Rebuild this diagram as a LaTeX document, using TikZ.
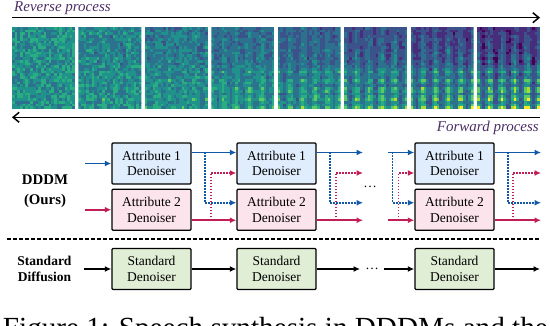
\documentclass[tikz,border=0pt]{standalone}
\usepackage{fontspec}
\setmainfont{Liberation Serif}
\usetikzlibrary{arrows.meta,positioning,calc}
\definecolor{dblue}{RGB}{18,88,168}
\definecolor{dred}{RGB}{192,30,84}
\definecolor{fillA}{RGB}{224,237,252}
\definecolor{fillB}{RGB}{252,228,236}
\definecolor{fillS}{RGB}{225,238,214}
\definecolor{plum}{RGB}{76,46,102}
% viridis steps for the spectrograms
\definecolor{vir0}{RGB}{68,1,84}
\definecolor{vir1}{RGB}{71,45,123}
\definecolor{vir2}{RGB}{59,82,139}
\definecolor{vir3}{RGB}{44,114,142}
\definecolor{vir4}{RGB}{33,145,140}
\definecolor{vir5}{RGB}{40,174,128}
\definecolor{vir6}{RGB}{94,201,98}
\definecolor{vir7}{RGB}{173,220,48}
\definecolor{vir8}{RGB}{253,231,37}

\begin{document}
\begin{tikzpicture}[x=1pt,y=1pt,
  den/.style={draw=black,line width=1.4pt,rounded corners=1pt,minimum width=79pt,
              minimum height=41pt,inner sep=0pt,align=center,
              font=\fontsize{13.5}{15.6}\selectfont},
  atta/.style={den,fill=fillA},
  attb/.style={den,fill=fillB},
  stdbx/.style={den,fill=fillS},
  side/.style={align=center,font=\bfseries\fontsize{14.8}{20}\selectfont},
  proc/.style={inner sep=0pt,text=plum,font=\itshape\fontsize{15}{17}\selectfont},
  bar/.style={-{Straight Barb[length=6pt,width=10pt]},line width=1.5pt},
  ar/.style={-{Latex[length=6.5pt,width=6pt]},line width=1.6pt},
  arb/.style={ar,draw=dblue},
  arr/.style={ar,draw=dred},
  dotb/.style={arb,dash pattern=on 1.5pt off 1.5pt},
  dotr/.style={arr,dash pattern=on 1.5pt off 1.5pt}]

\useasboundingbox (0,0) rectangle (550,326);

% spectrograms, noise to speech
\pgfmathsetseed{42}
\foreach \pan in {0,...,7}{
  \pgfmathsetmacro{\mix}{\pan/7}
  \pgfmathsetmacro{\px}{12+66.43*\pan}
  \begin{scope}
    \clip (\px,217) rectangle ++(63,82);
    \foreach \cx in {0,...,23}{
      \pgfmathsetmacro{\vc}{pow(0.5+0.5*cos(\cx*75+40),1.2)}
      \foreach \ry in {0,...,29}{
        \pgfmathsetmacro{\sig}{\ry<16 ? 0.2+0.1*(1-\ry/16)+\vc*(0.25+0.5*(0.5+0.5*cos(\ry*110)))*(1-\ry/45) : 0.08+0.45*\vc*(1.3-\ry/30)}
        \pgfmathsetmacro{\val}{(1-\mix)*(0.5+0.17*rand)+\mix*(\sig+0.08*rand)}
        \pgfmathtruncatemacro{\lev}{max(0,min(8,round(\val*8)))}
        \fill[vir\lev] (\px+\cx*2.625,217+\ry*2.734) rectangle ++(2.8,2.9);
      }
    }
  \end{scope}
}

\node[proc,anchor=west] (rev) at (14,318) {Reverse process};
\node[proc,anchor=east] (fwd) at (539,198) {Forward process};
\coordinate (tl) at (12,308.3);
\coordinate (tr) at (540,308.3);
\coordinate (bl) at (12,208.7);
\coordinate (br) at (540,208.7);
\draw[bar] (tl) -- (tr);
\draw[bar] (br) -- (bl);

% DDDM rows
\node[side] (dddm) at (45,134.3) {DDDM\\(Ours)};
\node[atta] (a1) at (151.5,162.5) {Attribute 1\\Denoiser};
\node[attb] (b1) at (151.5,116.25) {Attribute 2\\Denoiser};
\node[atta] (a2) at (276.5,162.5) {Attribute 1\\Denoiser};
\node[attb] (b2) at (276.5,116.25) {Attribute 2\\Denoiser};
\node[atta] (a3) at (454.5,162.5) {Attribute 1\\Denoiser};
\node[attb] (b3) at (454.5,116.25) {Attribute 2\\Denoiser};
\node[font=\fontsize{13.5}{15.6}\selectfont] (dd) at (370,139.3) {\dots};

\coordinate (ia) at (85,162.5);
\coordinate (ib) at (85,116.25);
\coordinate (g2) at (363,0);
\coordinate (g3) at (388,0);
\coordinate (g4) at (541,0);
\draw[arb] (ia) -- (a1);
\draw[arr] (ib) -- (b1);

\draw[arb] ([yshift=11pt]a1.east) -- ([yshift=11pt]a2.west);
\draw[arr] ([yshift=-10.5pt]b1.east) -- ([yshift=-10.5pt]b2.west);
\draw[dotb] ([xshift=13pt,yshift=11pt]a1.east) |- ([yshift=7pt]b2.west);
\draw[dotr] ([xshift=19pt,yshift=-10.5pt]b1.east) |- ([yshift=-9.5pt]a2.west);

\draw[arb] ([yshift=11pt]a2.east) -- ([yshift=11pt]a2.east -| g2);
\draw[arr] ([yshift=-10.5pt]b2.east) -- ([yshift=-10.5pt]b2.east -| g2);
\draw[dotb] ([xshift=13pt,yshift=11pt]a2.east) |- ([yshift=7pt]b2.east -| g2);
\draw[dotr] ([xshift=19pt,yshift=-10.5pt]b2.east) |- ([yshift=-9.5pt]a2.east -| g2);

\draw[arb] ([yshift=11pt]a3.west -| g3) -- ([yshift=11pt]a3.west);
\draw[arr] ([yshift=-10.5pt]b3.west -| g3) -- ([yshift=-10.5pt]b3.west);
\draw[dotb] ([xshift=-22pt,yshift=11pt]a3.west) |- ([yshift=7pt]b3.west);
\draw[dotr] ([xshift=-16pt,yshift=-10.5pt]b3.west) |- ([yshift=-9.5pt]a3.west);

\draw[arb] ([yshift=11pt]a3.east) -- ([yshift=11pt]a3.east -| g4);
\draw[arr] ([yshift=-10.5pt]b3.east) -- ([yshift=-10.5pt]b3.east -| g4);
\draw[dotb] ([xshift=13pt,yshift=11pt]a3.east) |- ([yshift=7pt]b3.east -| g4);
\draw[dotr] ([xshift=18pt,yshift=-10.5pt]b3.east) |- ([yshift=-9.5pt]a3.east -| g4);

\coordinate (dl) at (7,87);
\coordinate (dr) at (540,87);
\draw[line width=1.3pt,dash pattern=on 4pt off 2pt] (dl) -- (dr);

% standard diffusion row
\node[side,font=\bfseries\fontsize{13.5}{16}\selectfont] (stdl) at (44.5,57.3)
  {Standard\\Diffusion};
\node[stdbx] (s1) at (151.5,57) {Standard\\Denoiser};
\node[stdbx] (s2) at (276.5,57) {Standard\\Denoiser};
\node[stdbx] (s3) at (454.5,57) {Standard\\Denoiser};
\node[font=\fontsize{13.5}{15.6}\selectfont,inner sep=5pt] (sd) at (372,57) {\dots};
\coordinate (is) at (83.5,57);
\coordinate (os) at (540,57);
\draw[ar] (is) -- (s1);
\draw[ar] (s1) -- (s2);
\draw[ar] (s2) -- (sd);
\draw[ar] (sd) -- (s3);
\draw[ar] (s3) -- (os);

\node[anchor=base west,inner sep=0pt,font=\fontsize{29.2}{30}\selectfont] (cap)
  at (2.7,-12) {Figure 1: Speech synthesis in DDDMs and the};
\end{tikzpicture}
\end{document}
